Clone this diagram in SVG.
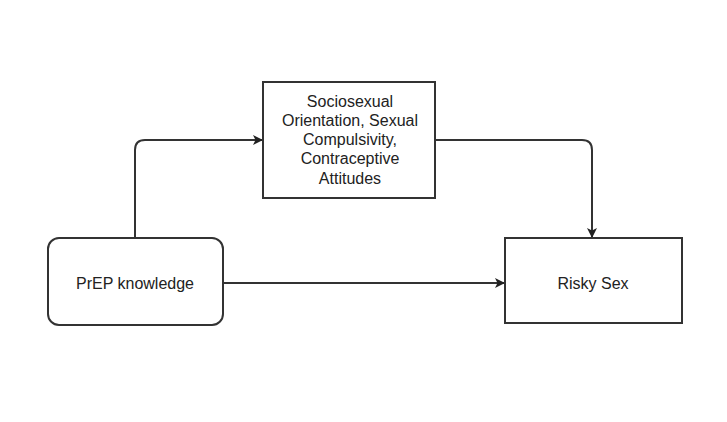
<svg xmlns="http://www.w3.org/2000/svg" width="727" height="422" viewBox="0 0 727 422">
<style>
.box{fill:#ffffff;stroke:#333333;stroke-width:2}
.lbl{font-family:"Liberation Sans",Arial,sans-serif;font-size:16px;fill:#222222;text-anchor:middle}
.edge{fill:none;stroke:#333333;stroke-width:2}
</style>
<defs>
<marker id="arr" markerWidth="10" markerHeight="10" refX="9" refY="5" orient="auto" markerUnits="userSpaceOnUse">
<path d="M0,0 L10,5 L0,10 L2.5,5 z" fill="#222222"/>
</marker>
</defs>
<rect width="727" height="422" fill="#ffffff"/>
<g id="connectors">
<path class="edge" d="M135,238 V150 Q135,140 145,140 H262" marker-end="url(#arr)"/>
<path class="edge" d="M435,140 H582 Q592,140 592,150 V237" marker-end="url(#arr)"/>
<path class="edge" d="M223,283 H504" marker-end="url(#arr)"/>
</g>
<g id="mediators">
<rect class="box" x="263" y="82" width="172" height="116"/>
<text class="lbl" x="350" y="107">Sociosexual</text>
<text class="lbl" x="350" y="126">Orientation, Sexual</text>
<text class="lbl" x="350" y="145">Compulsivity,</text>
<text class="lbl" x="350" y="164">Contraceptive</text>
<text class="lbl" x="350" y="184">Attitudes</text>
</g>
<g id="prep">
<rect class="box" x="48" y="238" width="175" height="87" rx="11" ry="11"/>
<text class="lbl" x="135" y="289">PrEP knowledge</text>
</g>
<g id="risky">
<rect class="box" x="505" y="238" width="177" height="85"/>
<text class="lbl" x="593" y="289">Risky Sex</text>
</g>
</svg>
